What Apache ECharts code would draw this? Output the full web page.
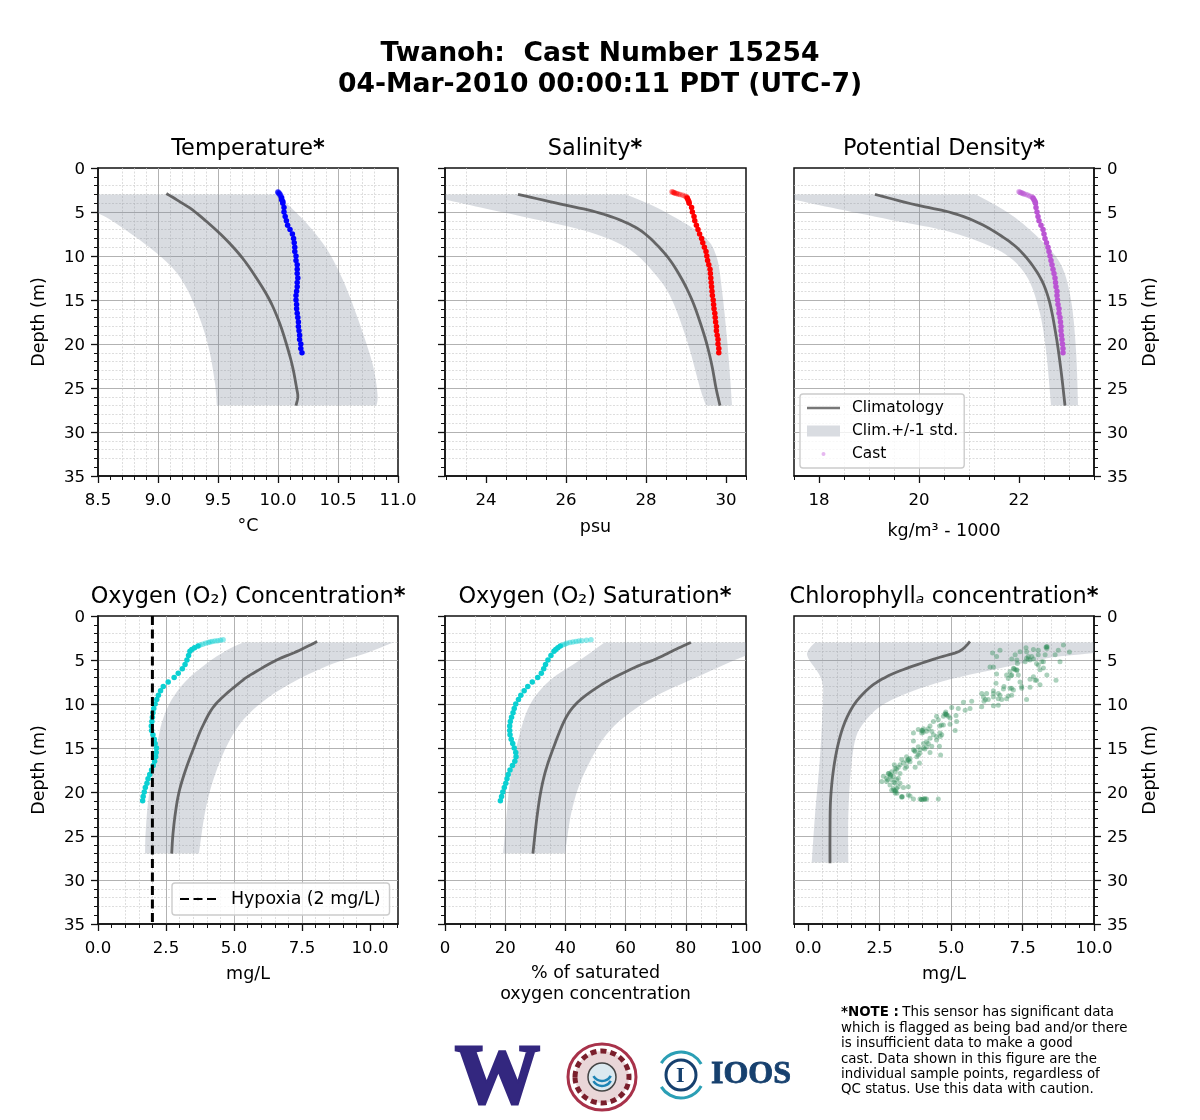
<!DOCTYPE html>
<html><head><meta charset="utf-8">
<script src="https://cdn.jsdelivr.net/npm/echarts@6/dist/echarts.min.js"></script>
<style>html,body{margin:0;padding:0;background:#fff}#c{width:1200px;height:1120px}</style>
</head><body><div id="c"></div>
<script>
// ---------- shared ticks ----------
const depthMajor = [0,5,10,15,20,25,30,35];
const depthMinor = [1,2,3,4,6,7,8,9,11,12,13,14,16,17,18,19,21,22,23,24,26,27,28,29,31,32,33,34];
const tempMajor = [8.5,9,9.5,10,10.5,11];
const tempMinor = [8.6,8.7,8.8,8.9,9.1,9.2,9.3,9.4,9.6,9.7,9.8,9.9,10.1,10.2,10.3,10.4,10.6,10.7,10.8,10.9];
const salMajor = [24,26,28,30];
const salMinor = [23,23.5,24.5,25,25.5,26.5,27,27.5,28.5,29,29.5,30.5];
const densMajor = [18,20,22];
const densMinor = [17.5,18.5,19,19.5,20.5,21,21.5,22.5,23,23.5];
const o2Major = [0,2.5,5,7.5,10];
const o2Minor = [0.5,1,1.5,2,3,3.5,4,4.5,5.5,6,6.5,7,8,8.5,9,9.5,10.5,11];
const satMajor = [0,20,40,60,80,100];
const satMinor = [5,10,15,25,30,35,45,50,55,65,70,75,85,90,95];
const chlMajor = [0,2.5,5,7.5,10];
const chlMinor = [-0.5,0.5,1,1.5,2,3,3.5,4,4.5,5.5,6,6.5,7,8,8.5,9,9.5];

// ---------- climatology: [value, depth] ----------
const tempClim = [[9.07,2.9],[9.19,3.9],[9.31,5],[9.52,7.5],[9.69,10],[9.82,12.5],[9.93,15],[10.01,17.5],[10.07,20],[10.12,22.5],[10.155,25],[10.165,26],[10.15,27]];
const tempLow = [[7.9,3],[8.2,4],[8.5,5.15],[8.71,6.86],[8.99,9.7],[9.18,12.35],[9.32,16.1],[9.42,20.3],[9.475,24.5],[9.49,27]];
const tempHigh = [[10,3],[10.07,4],[10.24,6.3],[10.41,9.3],[10.54,12.7],[10.66,16.9],[10.77,21.4],[10.81,23.7],[10.83,26],[10.82,27]];
const salClim = [[24.8,3],[25.87,4.1],[26.75,5],[27.45,6.1],[27.98,7.5],[28.52,10],[28.88,12.5],[29.15,15],[29.35,17.5],[29.52,20],[29.65,22.5],[29.75,25],[29.85,27]];
const salLow = [[22.5,3],[23,3.6],[23.87,4.5],[25.1,5.7],[26.6,7.3],[27.6,9.3],[28.25,12.2],[28.65,15],[29.05,20],[29.35,25],[29.5,27]];
const salHigh = [[27.5,3],[28.4,4.8],[29.4,7.6],[29.75,9.9],[29.9,13.9],[30.05,20.7],[30.15,27]];
const densClim = [[19.12,3],[19.94,4.2],[20.6,5],[21.14,6.1],[21.64,7.7],[22.04,9.5],[22.4,12.2],[22.6,15],[22.74,19],[22.84,23],[22.92,27]];
const densLow = [[17.04,3],[17.5,3.6],[18.24,4.5],[19.44,5.9],[20.64,7.3],[21.64,9.5],[22.14,12.2],[22.4,16.1],[22.54,20.7],[22.64,27]];
const densHigh = [[21.14,3],[21.84,5.3],[22.44,8.2],[22.84,11],[23.04,15],[23.14,20.7],[23.18,27]];
const o2Clim = [[8.06,2.9],[7.3,4.05],[6.57,5],[5.71,6.5],[5.24,7.5],[4.33,10],[3.85,12.5],[3.52,15],[3.22,17.5],[2.98,20],[2.84,22.5],[2.75,25],[2.71,27]];
const o2Low = [[5.34,3],[4.73,3.9],[3.99,5.4],[3.26,7.3],[2.71,9.5],[2.34,12.2],[2.1,16],[1.85,20.9],[1.75,24.7],[1.73,27]];
const o2High = [[10.86,3],[9.88,4.2],[8.65,5.4],[7.3,7.3],[6.2,9.4],[5.34,11.8],[4.73,14.8],[4.24,18.6],[3.93,22.4],[3.71,27]];
const satClim = [[81.7,3],[76,3.9],[70,4.9],[64,5.7],[55,7.2],[48.5,8.6],[43.5,10],[39.8,11.8],[36,15],[33.5,17.5],[31.8,20],[30.5,23],[29.2,27]];
const satLow = [[53,3],[44.9,5],[34.9,7.3],[28.2,10.1],[24.3,14.1],[21.6,18.7],[19.3,27]];
const satHigh = [[114,3],[100,4.5],[84.7,6.8],[68,9.5],[54.8,13],[46.5,17.7],[42.2,22],[39.9,27]];
const chlClim = [[5.66,2.9],[5.29,4],[4.49,4.8],[3.44,5.95],[2.74,6.9],[2.16,8.1],[1.64,9.9],[1.29,12],[1.05,14.5],[0.88,17.5],[0.78,20.9],[0.76,24.7],[0.76,28.1]];
const chlLow = [[0.24,3],[0,3.9],[0,4.8],[0.47,7.3],[0.5,10.3],[0.41,16],[0.24,22.4],[0.12,28]];
const chlHigh = [[13,3],[10,4.2],[8.35,4.8],[6.48,6.1],[4.84,7.3],[3.44,8.8],[2.51,10.3],[1.93,12.2],[1.64,14.1],[1.48,17.9],[1.4,22.8],[1.4,28]];

// ---------- cast ----------
const castDepth = [2.7,2.75,2.8,2.85,2.9,2.95,3,3.1,3.2,3.3,3.4,3.6,3.8,4,4.5,5,5.5,6,6.5,7,7.5,8,8.5,9,9.5,10,10.5,11,11.5,12,12.5,13,13.5,14,14.5,15,15.5,16,16.5,17,17.5,18,18.5,19,19.5,20,20.5,21];
const tempCast = [10,10,10,10.01,10.01,10.01,10.02,10.02,10.02,10.03,10.03,10.03,10.04,10.04,10.05,10.05,10.06,10.07,10.08,10.1,10.12,10.13,10.135,10.14,10.14,10.15,10.15,10.16,10.16,10.16,10.165,10.16,10.16,10.155,10.15,10.15,10.155,10.155,10.16,10.165,10.17,10.17,10.175,10.18,10.18,10.19,10.19,10.2];
const salCast = [28.65,28.68,28.7,28.72,28.76,28.8,28.85,28.92,28.98,29.02,29.03,29.05,29.07,29.08,29.14,29.16,29.2,29.22,29.26,29.3,29.34,29.39,29.42,29.46,29.5,29.52,29.54,29.57,29.6,29.61,29.62,29.63,29.64,29.65,29.66,29.68,29.69,29.7,29.72,29.73,29.74,29.76,29.76,29.78,29.8,29.8,29.82,29.82];
const densCast = [22,22.02,22.04,22.06,22.08,22.1,22.14,22.18,22.22,22.26,22.28,22.3,22.32,22.33,22.34,22.36,22.38,22.4,22.44,22.48,22.5,22.52,22.55,22.58,22.6,22.62,22.64,22.66,22.68,22.7,22.72,22.73,22.74,22.76,22.76,22.77,22.78,22.8,22.8,22.82,22.83,22.84,22.84,22.85,22.86,22.87,22.88,22.88];
const o2Cast = [4.6,4.5,4.4,4.3,4.2,4.12,4.05,3.95,3.85,3.75,3.68,3.55,3.45,3.38,3.33,3.27,3.2,3.1,2.95,2.8,2.58,2.4,2.3,2.22,2.16,2.1,2.05,2.02,2,1.98,1.96,1.97,2.02,2.07,2.1,2.15,2.14,2.12,2.08,2.03,1.97,1.9,1.84,1.8,1.74,1.7,1.66,1.64];
const satCast = [48.5,47,45.5,44.5,43.5,42.5,41.5,40.5,39.8,39,38.3,37.5,36.8,36.2,35.2,34.2,33.4,32.8,32,30.8,29,27.5,26.3,25.2,24.4,23.5,23,22.6,22.1,21.7,21.5,21.5,21.6,22,22.5,23,23.5,23.6,23.2,22.4,21.6,21,20.6,20.2,19.7,19.2,18.8,18.4];
const chlCast = [[8.34,3.5],[8.36,3.5],[8.32,3.55],[8.93,3.3],[8.75,3.9],[9.14,4.1],[8.64,4.4],[8.81,5.2],[8.29,4.4],[8.05,3.9],[7.88,3.8],[7.62,3.6],[7.41,4.05],[7.24,4.4],[7.64,4.8],[7.82,4.6],[7.7,4.9],[7.99,5.4],[8.17,5.2],[8.23,5.9],[7.32,5.4],[7.12,4.9],[6.71,3.9],[6.45,4.2],[6.59,4.6],[6.36,5.8],[6.48,5.8],[7.24,6.1],[7.2,6],[7.3,6.2],[7.06,6.3],[7.35,6.7],[7,7.1],[7.1,6.8],[6.59,6.6],[7.88,6.9],[7.99,7.3],[8.11,7.8],[8.67,7.3],[8.35,6.7],[7.76,8.1],[7.47,8],[7.12,8.2],[6.83,8.3],[6.57,7.65],[6.48,8.5],[6.07,8.8],[6.24,8.8],[6.65,9.4],[7,9.1],[6.77,9.5],[7.64,9.5],[6.15,9.7],[6.2,9.5],[6.48,10.2],[6.65,10.15],[6.07,10.3],[5.72,9.7],[5.43,9.8],[5.66,10.5],[5.49,10.7],[5.25,10.5],[5.02,10.4],[4.81,11.1],[4.83,11.2],[4.78,11.15],[4.73,11.4],[4.9,11.4],[5.17,11.3],[5.19,12],[4.96,12.3],[5.14,13],[4.49,11.4],[4.38,12],[4.26,12.5],[4.66,12.4],[4.6,12.5],[4.03,12.8],[4,13],[3.85,12.9],[3.97,13.3],[4.02,13.2],[3.68,13.3],[4.14,13.1],[4.38,13.5],[4.67,13.5],[4.62,13.7],[4.49,14.1],[4.14,14.3],[4.2,14.5],[3.68,14.2],[4.59,14.8],[4.32,14.8],[4.03,15],[4.08,15.1],[3.85,14.85],[3.68,15.2],[3.72,15.3],[4.26,15.5],[4.63,15.8],[3.85,15.8],[3.9,15.6],[3.44,16],[3.56,16.55],[3.5,16.3],[3.45,16.5],[3.89,16.7],[3.27,16.3],[3.74,17.2],[3.39,17.3],[3.01,16.9],[3.09,17.4],[3.15,17.2],[2.86,18],[2.88,18.1],[2.82,17.9],[3.04,17.7],[3.21,17.9],[2.63,18.2],[2.57,18.8],[2.74,18.8],[2.78,18.6],[2.92,18.6],[3.09,18.6],[3,18.9],[3.15,19.4],[3.33,19.5],[3.5,19.4],[3.04,19.85],[3.06,19.9],[3,19.8],[2.92,19.8],[3.1,20.15],[3.27,20.5],[3.29,20.55],[3.56,20.45],[3.68,20.8],[3.91,20.8],[4.03,20.8],[4.14,20.8],[4.55,20.8],[4.08,20.85],[3.96,20.85],
[7.7,4.6],[7.76,5],[7.59,5.2],[7.88,4.9],[7.18,5.95],[7.3,6.1],[7.12,6.7],[6.94,6.7],[7.41,7.5],[7.94,7.3],[7.76,7.2],[6.85,8],[7.06,8.2],[6.48,8.8],[6.71,9],[6.94,9.4],[7.12,9],[6.13,9.2],[6.3,9.5],[6.48,9.2],[6.65,8.8],[7.18,8.4],[7.47,8.2],[8.23,5.2],[8.05,4.4],[7.64,4.05],[7.3,5],[8.35,3.7],[8.05,5.6],[8.11,6.1],
[4.81,10.9],[4.84,11.25],[4.96,11.6],[4.55,11.8],[4.73,12.4],[4.2,12.8],[3.97,13],[4.32,13.1],[4.61,13.3],[4.49,13.7],[4.26,13.9],[4.03,14.5],[4.14,14.85],[3.91,15.2],[3.74,15.4],[3.8,16],[3.5,16.4],[3.56,16.2],[3.33,16.7],[3.44,17.1],[3.21,16.9],[3.04,17.3],[2.92,17.7],[2.8,17.9],[2.88,18.2],[2.74,18.45],[2.98,18.25],[3.15,18.45],[3.04,19],[2.86,19.2],[3.21,19],[2.98,19.6],[3.09,19.6],[3.04,20.1],[3.27,20.6],[3.5,20.35],[3.97,20.85],[4.08,20.75]];
const hypoxiaLine = [[2,0],[2,35]];

const FONT = '"DejaVu Sans"';
const BAND = 'rgba(128,138,155,0.30)';
const CLIM = 'rgba(80,80,80,0.85)';
const panels = [
 {l:98, t:168,w:300,min:8.5,max:11,major:tempMajor,minor:tempMinor,fmt:v=>v.toFixed(1),clim:tempClim,low:tempLow,high:tempHigh,cast:tempCast,color:'#0000ff',title:'{t|Temperature}{b|*}',xname:'°C',side:'left',depthLabel:true},
 {l:445,t:168,w:301,min:22.975,max:30.5,major:salMajor,minor:salMinor,fmt:v=>String(v),clim:salClim,low:salLow,high:salHigh,cast:salCast,color:'#ff0000',title:'{t|Salinity}{b|*}',xname:'psu',side:'left',depthLabel:false},
 {l:794,t:168,w:300,min:17.5,max:23.5,major:densMajor,minor:densMinor,fmt:v=>String(v),clim:densClim,low:densLow,high:densHigh,cast:densCast,color:'#ba55d3',title:'{t|Potential Density}{b|*}',xname:'kg/m³ - 1000',side:'right',depthLabel:true,legend:true},
 {l:98, t:616,w:300,min:0,max:11.03,major:o2Major,minor:o2Minor,fmt:v=>v.toFixed(1),clim:o2Clim,low:o2Low,high:o2High,cast:o2Cast,color:'#0bd0d2',title:'{t|Oxygen (O₂) Concentration}{b|*}',xname:'mg/L',side:'left',depthLabel:true,hypoxia:true},
 {l:445,t:616,w:301,min:0,max:100,major:satMajor,minor:satMinor,fmt:v=>String(v),clim:satClim,low:satLow,high:satHigh,cast:satCast,color:'#0bd0d2',title:'{t|Oxygen (O₂) Saturation}{b|*}',xname:'% of saturated\noxygen concentration',side:'left',depthLabel:false},
 {l:794,t:616,w:300,min:-0.5,max:10,major:chlMajor,minor:chlMinor,fmt:v=>v.toFixed(1),clim:chlClim,low:chlLow,high:chlHigh,scatter:chlCast,color:'#2e8b57',title:'{t|Chlorophyll}{i|ₐ}{t| concentration}{b|*}',xname:'mg/L',side:'right',depthLabel:true}
];
const H=308;
const grid=[],xAxis=[],yAxis=[],series=[],title=[];
const lab={fontFamily:FONT,fontSize:16.6,color:'#000'};
const nameLab={fontFamily:FONT,fontSize:17.5,color:'#000'};
function spline(pts){
  const out=[];
  for(let i=0;i<pts.length-1;i++){
    const p0=pts[Math.max(i-1,0)],p1=pts[i],p2=pts[i+1],p3=pts[Math.min(i+2,pts.length-1)];
    for(let s=0;s<8;s++){
      const t=s/8,t2=t*t,t3=t2*t;
      out.push([0,1].map(k=>0.5*(2*p1[k]+(p2[k]-p0[k])*t+(2*p0[k]-5*p1[k]+4*p2[k]-p3[k])*t2+(3*p1[k]-p0[k]-3*p2[k]+p3[k])*t3)));
    }
  }
  out.push(pts[pts.length-1]);
  return out;
}
title.push({text:'Twanoh:  Cast Number 15254\n04-Mar-2010 00:00:11 PDT (UTC-7)',left:595,top:34,textAlign:'center',textStyle:{fontFamily:FONT,fontSize:26.6,fontWeight:'bold',color:'#000',lineHeight:30.5}});
const plain={fontFamily:FONT,fontSize:22.4,fontWeight:'normal',color:'#000'};
panels.forEach((p,i)=>{
  grid.push({left:p.l,top:p.t,width:p.w,height:H,show:true,borderColor:'#111',borderWidth:1.5,backgroundColor:'#fff'});
  title.push({text:p.title,left:p.l+145,top:p.t-35,textAlign:'center',textStyle:{rich:{t:plain,b:{...plain,fontWeight:'bold'},i:{...plain,fontStyle:'italic'}}}});
  const base={gridIndex:i,min:p.min,max:p.max,scale:true};
  const two=p.xname.includes('\n');
  xAxis.push({...base,type:'value',position:'bottom',name:p.xname,nameLocation:'middle',nameGap:p.xname.startsWith('kg')?44:(p.xname==='psu'?40:39),nameTextStyle:{...nameLab,lineHeight:two?21:22},
    axisLine:{show:true,onZero:false,lineStyle:{color:'#111',width:1.5}},
    axisTick:{show:true,length:7,lineStyle:{color:'#111',width:1.3},customValues:p.major},
    axisLabel:{show:true,...lab,margin:16,customValues:p.major,formatter:p.fmt,hideOverlap:false},
    splitLine:{show:true,showMinLine:false,showMaxLine:false,lineStyle:{color:'#a9a9a9',width:0.9}}});
  xAxis.push({...base,type:'value',position:'bottom',
    axisLine:{show:false,onZero:false},
    axisTick:{show:true,length:4,lineStyle:{color:'#111',width:1},customValues:p.minor},
    axisLabel:{show:false},
    splitLine:{show:true,showMinLine:false,showMaxLine:false,lineStyle:{color:'#cfcfcf',width:0.7,type:[2,1.5]}}});
  const ybase={gridIndex:i,type:'value',min:0,max:35,inverse:true,position:p.side};
  yAxis.push({...ybase,name:p.depthLabel?'Depth (m)':'',nameLocation:'middle',nameRotate:90,nameGap:p.side==='left'?50:47,nameTextStyle:nameLab,
    axisLine:{show:true,onZero:false,lineStyle:{color:'#111',width:1.5}},
    axisTick:{show:true,length:7,lineStyle:{color:'#111',width:1.3},customValues:depthMajor},
    axisLabel:{show:p.depthLabel,...lab,margin:13,verticalAlign:'top',lineHeight:4,customValues:depthMajor},
    splitLine:{show:true,showMinLine:false,showMaxLine:false,lineStyle:{color:'#a9a9a9',width:0.9}}});
  yAxis.push({...ybase,
    axisLine:{show:false,onZero:false},
    axisTick:{show:true,length:4,lineStyle:{color:'#111',width:1},customValues:depthMinor},
    axisLabel:{show:false},
    splitLine:{show:true,showMinLine:false,showMaxLine:false,lineStyle:{color:'#cfcfcf',width:0.7,type:[2,1.5]}}});
  const xi=2*i, yi=2*i;
  const poly=p.low.concat(p.high.slice().reverse());
  series.push({type:'custom',name:p.legend?'Clim.+/-1 std.':'band '+i,xAxisIndex:xi,yAxisIndex:yi,clip:true,z:2,silent:true,
    data:poly,encode:{x:0,y:1},itemStyle:{color:BAND},
    renderItem:(params,api)=>{
      if(params.dataIndex!==0) return null;
      const a=spline(p.low.map(q=>api.coord(q))), b=spline(p.high.map(q=>api.coord(q))).reverse();
      return {type:'polygon',shape:{points:a.concat(b)},style:{fill:BAND}};
    }});
  series.push({type:'custom',name:p.legend?'Climatology':'clim '+i,xAxisIndex:xi,yAxisIndex:yi,clip:true,z:3,silent:true,
    data:p.clim,encode:{x:0,y:1},itemStyle:{color:CLIM},
    renderItem:(params,api)=>{
      if(params.dataIndex!==0) return null;
      return {type:'polyline',shape:{points:spline(p.clim.map(q=>api.coord(q)))},style:{fill:'none',stroke:CLIM,lineWidth:2.8}};
    }});
  if(p.scatter){
    series.push({type:'scatter',name:'chl cast',xAxisIndex:xi,yAxisIndex:yi,data:p.scatter,symbolSize:5,silent:true,z:4,itemStyle:{color:p.color,opacity:0.4}});
  }else{
    const rows=castDepth.map((d,k)=>({value:[p.cast[k],d],itemStyle:{opacity:d<3.4?0.45:1}}));
    series.push({type:'scatter',name:p.legend?'Cast':'cast '+i,xAxisIndex:xi,yAxisIndex:yi,data:rows,symbolSize:5.5,silent:true,z:4,itemStyle:{color:p.color}});
  }
  if(p.hypoxia){
    series.push({type:'line',name:'Hypoxia (2 mg/L)',xAxisIndex:xi,yAxisIndex:yi,data:hypoxiaLine,showSymbol:false,symbol:'none',silent:true,z:5,lineStyle:{color:'#000',width:3,type:[9,4.5]},itemStyle:{color:'#000'}});
  }
});
const legendBox={backgroundColor:'rgba(255,255,255,0.8)',borderColor:'#cccccc',borderWidth:1.4,borderRadius:3,orient:'vertical',align:'left',selectedMode:false};
const legend=[
 {...legendBox,left:800,top:394,padding:[6.5,6,6.5,7],itemWidth:33,itemHeight:11,itemGap:8,textStyle:{fontFamily:FONT,fontSize:15.4,color:'#000',padding:[0,0,0,7]},
  data:[{name:'Climatology',icon:'path://M0,0L0,0ZM33,11L33,11ZM0,4.2H33V6.8H0Z',itemStyle:{color:'#777',opacity:1}},{name:'Clim.+/-1 std.',icon:'rect',itemStyle:{color:'#d9dce1'}},{name:'Cast',icon:'path://M0,0L0,0ZM33,11L33,11ZM14.5,5.5a2,2 0 1,0 4,0a2,2 0 1,0 -4,0Z',itemStyle:{color:'#e6b8f0',opacity:1}}]},
 {...legendBox,left:172,top:883,padding:[7.5,9,7.5,7],itemWidth:36,itemHeight:3,textStyle:{fontFamily:FONT,fontSize:17.4,color:'#000',padding:[0,0,0,10]},data:[{name:'Hypoxia (2 mg/L)'}]}
];
const noteLines=['This sensor has significant data','which is flagged as being bad and/or there','is insufficient data to make a good','cast. Data shown in this figure are the','individual sample points, regardless of','QC status. Use this data with caution.'];
const graphic=[
 {type:'text',x:455,y:1039,z:10,style:{text:'W',font:'bold 85px "Liberation Serif"',fill:'#33277f',stroke:'#33277f',lineWidth:3}},
 {type:'ellipse',shape:{cx:602,cy:1077,rx:34,ry:33},z:10,style:{fill:'#fff',stroke:'#a8324a',lineWidth:3}},
 {type:'ellipse',shape:{cx:602,cy:1077,rx:27,ry:26},z:10,style:{fill:'#e9d6d8',stroke:'#7a1f2c',lineWidth:5,lineDash:[6,4]}},
 {type:'circle',shape:{cx:602,cy:1077,r:14},z:10,style:{fill:'#dbe9f0',stroke:'#444',lineWidth:1.5}},
 {type:'arc',shape:{cx:602,cy:1071,r:10,startAngle:0.5,endAngle:2.6},z:11,style:{stroke:'#1d84b5',lineWidth:2.5,fill:'none'}},
 {type:'arc',shape:{cx:602,cy:1076,r:10,startAngle:0.5,endAngle:2.6},z:11,style:{stroke:'#1d84b5',lineWidth:2.5,fill:'none'}},
 {type:'arc',shape:{cx:681,cy:1075,r:23,startAngle:-2.6,endAngle:-0.5},z:10,style:{stroke:'#2b9fb5',lineWidth:3,fill:'none'}},
 {type:'arc',shape:{cx:681,cy:1075,r:23,startAngle:0.5,endAngle:2.6},z:10,style:{stroke:'#2b9fb5',lineWidth:3,fill:'none'}},
 {type:'circle',shape:{cx:681,cy:1075,r:15},z:10,style:{fill:'none',stroke:'#16406e',lineWidth:3}},
 {type:'text',x:676,y:1065,z:10,style:{text:'I',font:'bold 22px "Liberation Serif"',fill:'#16406e'}},
 {type:'text',x:711,y:1059,z:10,style:{text:'IOOS',font:'bold 32px "Liberation Serif"',fill:'#16406e',stroke:'#16406e',lineWidth:0.8}},
 {type:'text',x:841,y:1006,z:10,style:{text:'{b|*NOTE :} {n|'+noteLines[0]+'}',rich:{b:{font:'bold 13.4px '+FONT,fill:'#000'},n:{font:'13.4px '+FONT,fill:'#000'}}}}
].concat(noteLines.slice(1).map((s,k)=>({type:'text',x:841,y:1022+k*15.3,z:10,style:{text:s,font:'13.4px '+FONT,fill:'#000'}})));
const chart=echarts.init(document.getElementById('c'),null,{renderer:'canvas',width:1200,height:1120});
chart.setOption({animation:false,backgroundColor:'#fff',tooltip:{show:false},title,legend,grid,xAxis,yAxis,series,graphic});
</script></body></html>
